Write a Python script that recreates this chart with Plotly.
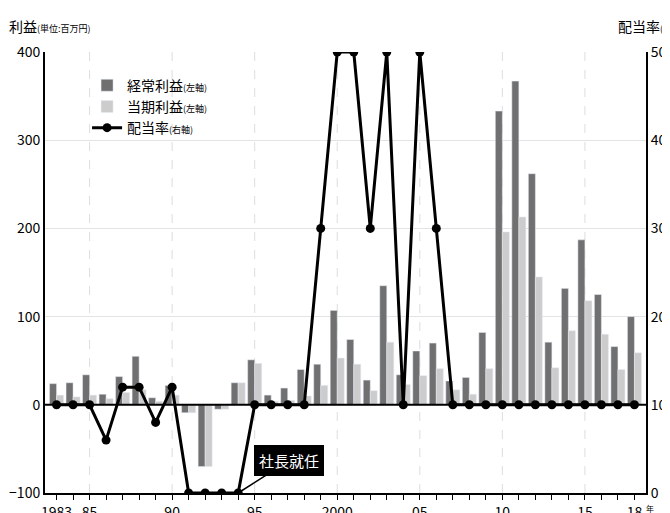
import plotly.graph_objects as go

# データ
years = list(range(1983, 2019))
keijo = [24, 25, 34, 12, 32, 55, 8, 22, -9, -70, -5, 25, 51, 11, 19, 40, 46, 107, 74, 28,
         135, 34, 61, 70, 27, 31, 82, 333, 367, 262, 71, 132, 187, 125, 66, 100]
toki = [11, 9, 11, 7, 14, 17, 4, 11, -9, -70, -5, 25, 47, 4, 5, 10, 22, 53, 46, 16,
        71, 23, 33, 41, 17, 12, 41, 196, 213, 145, 42, 84, 118, 80, 40, 59]
haito = [10, 10, 10, 6, 12, 12, 8, 12, 0, 0, 0, 0, 10, 10, 10, 10, 30, 50, 50, 30,
         50, 10, 50, 30, 10, 10, 10, 10, 10, 10, 10, 10, 10, 10, 10, 10]
tick_vals = [1983, 1985, 1990, 1995, 2000, 2005, 2010, 2015, 2018]
tick_text = ["1983", "85", "90", "95", "2000", "05", "10", "15", "18"]

F = "Noto Sans CJK JP"
small = "<span style='font-size:9px'>{}</span>"

fig = go.Figure()
fig.add_bar(x=years, y=keijo, name="経常利益" + small.format("(左軸)"), marker_color="#707070")
fig.add_bar(x=years, y=toki, name="当期利益" + small.format("(左軸)"), marker_color="#cccccc")
fig.add_scatter(x=years, y=haito, yaxis="y2", name="配当率" + small.format("(右軸)"),
                mode="lines+markers", line=dict(color="black", width=3),
                marker=dict(color="black", size=9))

for v in [1985, 1990, 1995, 2000, 2005, 2010, 2015]:
    fig.add_vline(x=v, line=dict(color="#dddddd", width=1, dash="dash"), layer="below")

fig.add_hline(y=0, line=dict(color="black", width=2))

fig.add_annotation(x=1994, y=-100, ax=1997.1, ay=-63, axref="x", ayref="y",
                   text="社長就任", font=dict(color="white", size=15, family=F),
                   bgcolor="black", bordercolor="black", borderpad=4,
                   showarrow=True, arrowhead=0, arrowcolor="black", arrowwidth=1.5)

fig.add_annotation(x=0, y=1, xref="paper", yref="paper", xanchor="left", yanchor="bottom",
                   xshift=-38, yshift=14, showarrow=False, align="left",
                   text="利益" + small.format("(単位:百万円)"), font=dict(size=14, family=F))
fig.add_annotation(x=1, y=1, xref="paper", yref="paper", xanchor="right", yanchor="bottom",
                   xshift=30, yshift=14, showarrow=False, text="配当率" + small.format("(%)"),
                   font=dict(size=14, family=F))
fig.add_annotation(x=2018.6, y=-100, xref="x", yref="y", xanchor="left", yanchor="top",
                   showarrow=False, text="年<br>度", font=dict(size=8, family=F), yshift=-8)

fig.update_layout(
    width=670, height=513, margin=dict(l=37, r=32, t=44, b=28),
    plot_bgcolor="white", paper_bgcolor="white",
    font=dict(family=F, size=14, color="black"),
    barmode="group", bargap=0.15, bargroupgap=0,
    showlegend=True,
    legend=dict(x=0.07, y=0.96, bgcolor="rgba(255,255,255,0)", font=dict(size=14),
                itemwidth=30, tracegroupgap=0),
    xaxis=dict(range=[1982.3, 2018.7], tickvals=tick_vals, ticktext=tick_text,
               showgrid=False, ticks="outside", ticklen=5, tickcolor="black", automargin=False,
               showline=True, linecolor="black", linewidth=2,
               minor=dict(dtick=1, tick0=1983, ticks="outside", ticklen=5, tickcolor="black")),
    yaxis=dict(range=[-100, 400], dtick=100, showgrid=True, gridcolor="#e3e3e3", automargin=False,
               showline=True, linecolor="black", linewidth=2, zeroline=False),
    yaxis2=dict(range=[0, 50], dtick=10, overlaying="y", side="right", showgrid=False,
                automargin=False, showline=True, linecolor="black", linewidth=2, zeroline=False),
)

fig.write_html("out.html")
